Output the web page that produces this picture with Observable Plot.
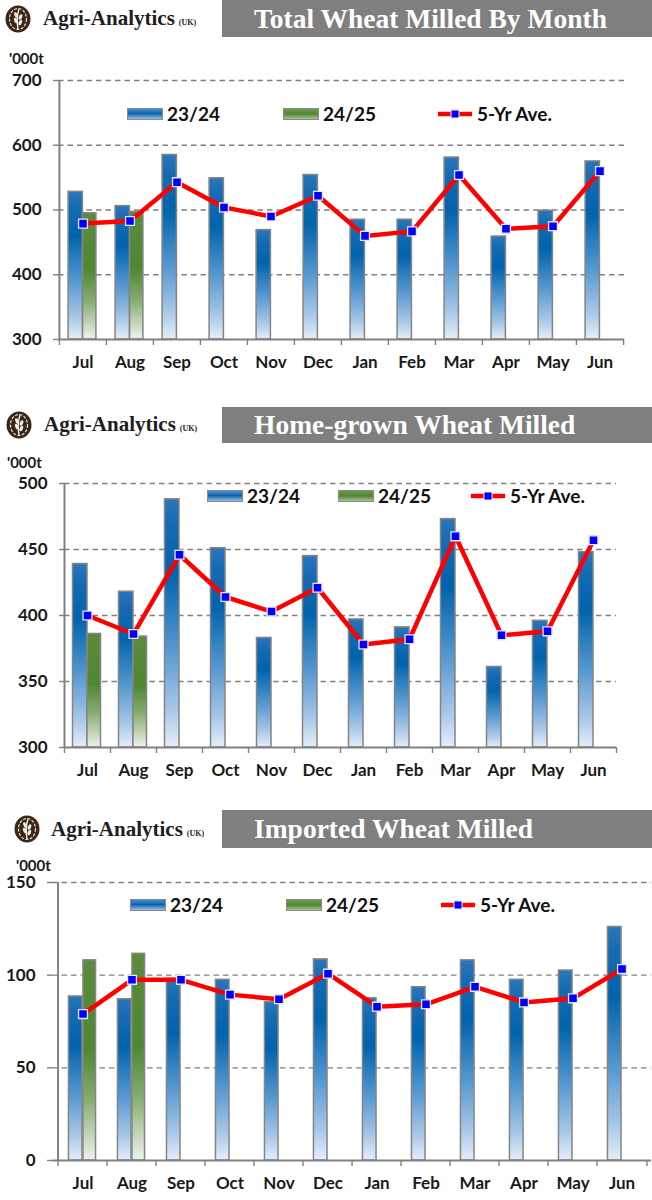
<!DOCTYPE html>
<html><head><meta charset="utf-8">
<script src="https://cdn.jsdelivr.net/npm/d3@7"></script>
<script src="https://cdn.jsdelivr.net/npm/@observablehq/plot@0.6"></script>
<style>
body{margin:0;background:#fff;}
#page{position:relative;width:652px;height:1200px;overflow:hidden;font-family:Lato,"Open Sans",sans-serif;}
.abs{position:absolute;}
.brand{font-family:"Liberation Serif",serif;font-weight:bold;font-size:21px;color:#1e1e1e;white-space:nowrap;line-height:1;}
.brand small{font-size:8px;margin-left:4px;}
.tbox{background:#7f7f7f;color:#fff;font-family:"Liberation Serif",serif;font-weight:bold;font-size:27.5px;box-sizing:border-box;padding-left:32px;white-space:nowrap;}
.unit{font-weight:bold;font-size:15px;color:#1a1a1a;line-height:1;}
.leg{font-weight:bold;font-size:19px;color:#111;line-height:1;display:flex;align-items:center;white-space:nowrap;}
.sw{display:inline-block;width:34px;height:10px;border:1px solid #8a8a8a;margin-right:4px;}
svg.plot{position:absolute;left:0;overflow:visible;}
</style>
</head><body>
<svg width="0" height="0" style="position:absolute">
<defs>
<linearGradient id="gBlue" x1="0" y1="0" x2="0" y2="1">
<stop offset="0" stop-color="#2a76bc"/><stop offset="0.1" stop-color="#166bb3"/><stop offset="0.3" stop-color="#0063ad"/><stop offset="0.6" stop-color="#5597cf"/><stop offset="0.85" stop-color="#a8c7e7"/><stop offset="1" stop-color="#e6eef9"/>
</linearGradient>
<linearGradient id="gGreen" x1="0" y1="0" x2="0" y2="1">
<stop offset="0" stop-color="#5a8b3b"/><stop offset="0.45" stop-color="#4f8733"/><stop offset="0.7" stop-color="#88ad73"/><stop offset="0.88" stop-color="#c4d6ba"/><stop offset="1" stop-color="#eef3ec"/>
</linearGradient>
</defs></svg>
<div id="page"></div>
<script>
// ---- data ----
const months = ["Jul","Aug","Sep","Oct","Nov","Dec","Jan","Feb","Mar","Apr","May","Jun"];

const total2324 = [528, 506, 585, 549, 469, 554, 485, 485, 581, 459, 499, 575];
const total2425 = [495, 497, null, null, null, null, null, null, null, null, null, null];
const totalAvg  = [479, 483, 543, 504, 490, 522, 460, 467, 554, 471, 475, 560];
const totalTicks = [300, 400, 500, 600, 700];

const home2324 = [439, 418, 488, 451, 383, 445, 397, 391, 473, 361, 396, 448];
const home2425 = [386, 384, null, null, null, null, null, null, null, null, null, null];
const homeAvg  = [400, 386, 446, 414, 403, 421, 378, 382, 460, 385, 388, 457];
const homeTicks = [300, 350, 400, 450, 500];

const imp2324 = [88.5, 87, 98, 97.5, 85.5, 108.5, 87.5, 93.5, 108, 97.5, 102.5, 126];
const imp2425 = [108, 111.5, null, null, null, null, null, null, null, null, null, null];
const impAvg  = [79, 97.5, 97.5, 89.5, 87, 100.8, 83, 84.3, 93.7, 85.3, 87.5, 103.3];
const impTicks = [0, 50, 100, 150];

const seriesNames = ["23/24", "24/25", "5-Yr Ave."];
const brandName = "Agri-Analytics";
const brandSuffix = "(UK)";
const unitLabel = "'000t";

const charts = [
  {title: "Total Wheat Milled By Month", a: total2324, b: total2425, avg: totalAvg, ticks: totalTicks,
   boxTop: 0, boxH: 37, brandTop: 8, logoTop: 5, logoLeft: 5, brandLeft: 43, unitTop: 48, unitLeft: 9,
   svgTop: 60, ml: 58, mr: 28, innerH: 259, legTop: 104, legX: [127, 283, 437]},
  {title: "Home-grown Wheat Milled", a: home2324, b: home2425, avg: homeAvg, ticks: homeTicks,
   boxTop: 407, boxH: 36, brandTop: 414, logoTop: 411, logoLeft: 6, brandLeft: 44, unitTop: 452, unitLeft: 7,
   svgTop: 463, ml: 64, mr: 36, innerH: 264, legTop: 486, legX: [207, 338, 470]},
  {title: "Imported Wheat Milled", a: imp2324, b: imp2425, avg: impAvg, ticks: impTicks,
   boxTop: 810, boxH: 38, brandTop: 819, logoTop: 815, logoLeft: 14, brandLeft: 51, unitTop: 855, unitLeft: 16,
   svgTop: 862, ml: 52, mr: 1, innerH: 278, legTop: 895, legX: [130, 286, 440]}
];

const page = document.getElementById("page");
const GRAY = "#808080";
const W = 652, MT = 20, MB = 45;

function logoSvg() {
  return `<svg width="26" height="28" viewBox="0 0 26 28">
    <ellipse cx="13" cy="14" rx="12.5" ry="13.5" fill="#3a2718"/>
    <ellipse cx="13" cy="14" rx="8.5" ry="10.5" fill="none" stroke="#e9e2d8" stroke-width="1.2" stroke-dasharray="3 1.5"/>
    <path d="M13 24 C12 18 12 10 14 4" stroke="#f2ede6" stroke-width="1.4" fill="none"/>
    <ellipse cx="11" cy="10" rx="1.6" ry="3" fill="#f2ede6" transform="rotate(-25 11 10)"/>
    <ellipse cx="15.5" cy="12" rx="1.6" ry="3" fill="#f2ede6" transform="rotate(25 15.5 12)"/>
    <ellipse cx="10.8" cy="15.5" rx="1.6" ry="3" fill="#f2ede6" transform="rotate(-25 10.8 15.5)"/>
    <ellipse cx="15.3" cy="17.5" rx="1.6" ry="3" fill="#f2ede6" transform="rotate(25 15.3 17.5)"/>
  </svg>`;
}

function add(html, style) {
  const d = document.createElement("div");
  d.className = "abs";
  d.style.cssText = style;
  d.innerHTML = html;
  page.appendChild(d);
  return d;
}

for (const c of charts) {
  // header
  add(logoSvg(), `left:${c.logoLeft}px;top:${c.logoTop}px;`);
  add(`<span class="brand">${brandName}<small>${brandSuffix}</small></span>`, `left:${c.brandLeft}px;top:${c.brandTop}px;`);
  add(`<div class="tbox" style="width:430px;height:${c.boxH}px;line-height:${c.boxH}px">${c.title}</div>`, `left:222px;top:${c.boxTop}px;`);
  add(`<span class="unit">${unitLabel}</span>`, `left:${c.unitLeft}px;top:${c.unitTop}px;`);

  const rowsA = months.map((m, i) => ({month: m, v: c.a[i]}));
  const rowsB = months.map((m, i) => ({month: m, v: c.b[i]})).filter(d => d.v != null);
  const rowsAvg = months.map((m, i) => ({month: m, v: c.avg[i]}));
  const ymin = c.ticks[0], ymax = c.ticks[c.ticks.length - 1];
  const innerW = W - c.ml - c.mr;
  const bw = innerW / months.length;
  const half = bw / 2;
  const H = MT + c.innerH + MB;

  const svg = Plot.plot({
    width: W, height: H,
    marginLeft: c.ml, marginRight: c.mr, marginTop: MT, marginBottom: MB,
    style: {fontFamily: "Lato, sans-serif", fontSize: "17px", fontWeight: "bold", color: "#1a1a1a", background: "transparent", overflow: "visible"},
    x: {domain: months, padding: 0, label: null, tickSize: 0, tickPadding: 16},
    y: {domain: [ymin, ymax], ticks: c.ticks, label: null, tickSize: 0, tickPadding: 17},
    marks: [
      Plot.ruleY(c.ticks.filter(t => t > ymin), {stroke: GRAY, strokeWidth: 1.4, strokeDasharray: "5.5,4"}),
      Plot.ruleY(c.ticks, {stroke: GRAY, strokeWidth: 1.4, insetLeft: -5, insetRight: innerW}),
      Plot.barY(rowsA, {x: "month", y1: ymin, y2: "v", fill: "url(#gBlue)", stroke: "#858585", strokeWidth: 1.5, insetLeft: half - 14.5, insetRight: half}),
      Plot.barY(rowsB, {x: "month", y1: ymin, y2: "v", fill: "url(#gGreen)", stroke: "#858585", strokeWidth: 1.5, insetLeft: half, insetRight: half - 13.5}),
      Plot.ruleY([ymin], {stroke: GRAY, strokeWidth: 2}),
      Plot.ruleX(months, {x: d => d, dx: -half, insetTop: c.innerH, insetBottom: -6, stroke: GRAY, strokeWidth: 1.4}),
      Plot.ruleX([months[months.length - 1]], {x: d => d, dx: half, insetTop: c.innerH, insetBottom: -6, stroke: GRAY, strokeWidth: 1.4}),
      Plot.ruleX([months[0]], {x: d => d, dx: -half, stroke: GRAY, strokeWidth: 2}),
      Plot.line(rowsAvg, {x: "month", y: "v", stroke: "#ff0000", strokeWidth: 4.5}),
      Plot.dot(rowsAvg, {x: "month", y: "v", symbol: "square", r: 5, fill: "#0000ff", stroke: "#e4e6f2", strokeWidth: 1.3})
    ]
  });
  svg.classList.add("plot");
  svg.style.top = c.svgTop + "px";
  page.appendChild(svg);

  // legend
  const sw = [
    `<span class="sw" style="background:linear-gradient(#4b8fcf,#0a64ad 45%,#9cc0e6)"></span>`,
    `<span class="sw" style="background:linear-gradient(#6b9a4e,#4f8733 50%,#a9c39a)"></span>`,
    `<svg width="36" height="12" style="margin-right:4px"><line x1="1" y1="6" x2="35" y2="6" stroke="#ff0000" stroke-width="4.5"/><rect x="14" y="2" width="8" height="8" fill="#0000ff" stroke="#e4e6f2" stroke-width="1"/></svg>`
  ];
  seriesNames.forEach((name, i) => {
    add(`<div class="leg">${sw[i]}<span>${name}</span></div>`, `left:${c.legX[i]}px;top:${c.legTop}px;`);
  });
}
</script>
</body></html>
